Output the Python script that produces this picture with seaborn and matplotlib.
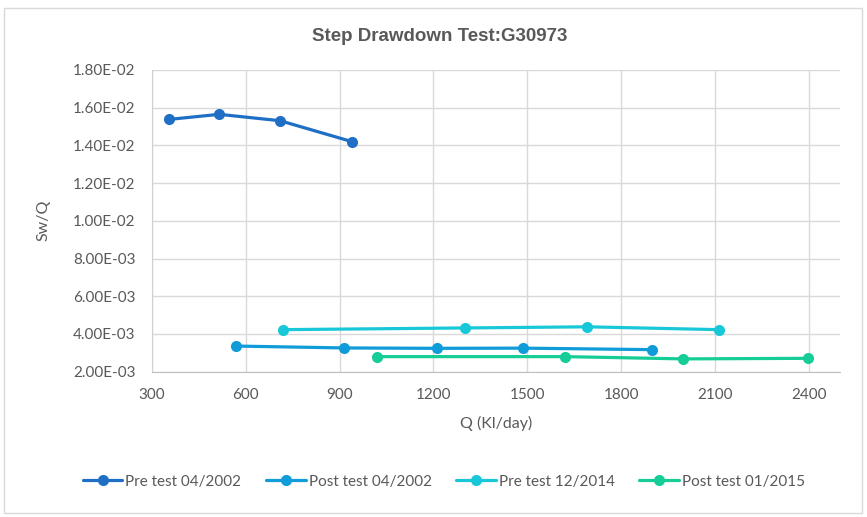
import seaborn as sns
import matplotlib.pyplot as plt
import matplotlib.patches as mpatches
from matplotlib.ticker import FuncFormatter, MultipleLocator

import pandas as pd

### data
series_names = [
    "Pre test 04/2002",
    "Post test 04/2002",
    "Pre test 12/2014",
    "Post test 01/2015",
]

q_pre_2002 = [354, 515, 710, 940]
sw_pre_2002 = [0.01537, 0.01564, 0.01530, 0.01419]

q_post_2002 = [569, 915, 1210, 1486, 1898]
sw_post_2002 = [0.00336, 0.00326, 0.00324, 0.00325, 0.00317]

q_pre_2014 = [718, 1302, 1692, 2112]
sw_pre_2014 = [0.00423, 0.00432, 0.00438, 0.00423]

q_post_2015 = [1018, 1621, 1997, 2396]
sw_post_2015 = [0.00280, 0.00280, 0.00268, 0.00271]

colors = ["#1F6FC6", "#0F9CD8", "#19C8D8", "#16CC97"]

frames = []
for name, q, sw in zip(
    series_names,
    [q_pre_2002, q_post_2002, q_pre_2014, q_post_2015],
    [sw_pre_2002, sw_post_2002, sw_pre_2014, sw_post_2015],
):
    frames.append(pd.DataFrame({"Q": q, "SwQ": sw, "series": name}))
data = pd.concat(frames).reset_index(drop=True)

### Graph
sns.set_style("white")
plt.rcParams["font.family"] = ["Lato", "DejaVu Sans"]
grey = "#595959"

fig = plt.figure(figsize=(8.67, 5.17), dpi=100)
ax = fig.add_axes([0.1753, 0.281, 0.7936, 0.584])

for name, col in zip(series_names, colors):
    sub = data[data["series"] == name]
    sns.lineplot(
        data=sub,
        x="Q",
        y="SwQ",
        sort=False,
        color=col,
        marker="o",
        markersize=8,
        markeredgewidth=0,
        linewidth=2.3,
        label=name,
        legend=False,
        ax=ax,
    )

ax.set_xlim(300, 2500)
ax.set_ylim(0.002, 0.018)
ax.xaxis.set_major_locator(MultipleLocator(300))
ax.yaxis.set_major_locator(MultipleLocator(0.002))
ax.yaxis.set_major_formatter(FuncFormatter(lambda v, p: f"{v:.2E}"))
ax.grid(True, color="#D9D9D9", linewidth=1)
ax.set_axisbelow(True)
for s in ["top", "right"]:
    ax.spines[s].set_visible(False)
ax.spines["left"].set_color("#D0D0D0")
ax.spines["bottom"].set_color("#BFBFBF")
ax.tick_params(axis="both", length=0, labelsize=11, colors=grey)
ax.tick_params(axis="y", pad=12)
ax.tick_params(axis="x", pad=12)

ax.set_xlabel("Q (Kl/day)", fontsize=11.5, color=grey, labelpad=10)
ax.set_ylabel("Sw/Q", fontsize=11.5, color=grey, labelpad=16)

fig.text(
    0.507,
    0.93,
    "Step Drawdown Test:G30973",
    ha="center",
    va="center",
    fontsize=13.5,
    fontweight="bold",
    color=grey,
    family=["Liberation Sans", "DejaVu Sans"],
)

handles, labels = ax.get_legend_handles_labels()
fig.legend(
    handles,
    labels,
    loc="center",
    bbox_to_anchor=(0.512, 0.068),
    ncol=4,
    frameon=False,
    fontsize=11,
    labelcolor=grey,
    handlelength=2.6,
    handletextpad=0.2,
    columnspacing=1.6,
)

# light border round the chart area
fig.patches.append(
    mpatches.Rectangle(
        (0.005, 0.007),
        0.989,
        0.978,
        transform=fig.transFigure,
        fill=False,
        edgecolor="#D9D9D9",
        linewidth=1,
    )
)

fig.savefig("out.png", dpi=100)
